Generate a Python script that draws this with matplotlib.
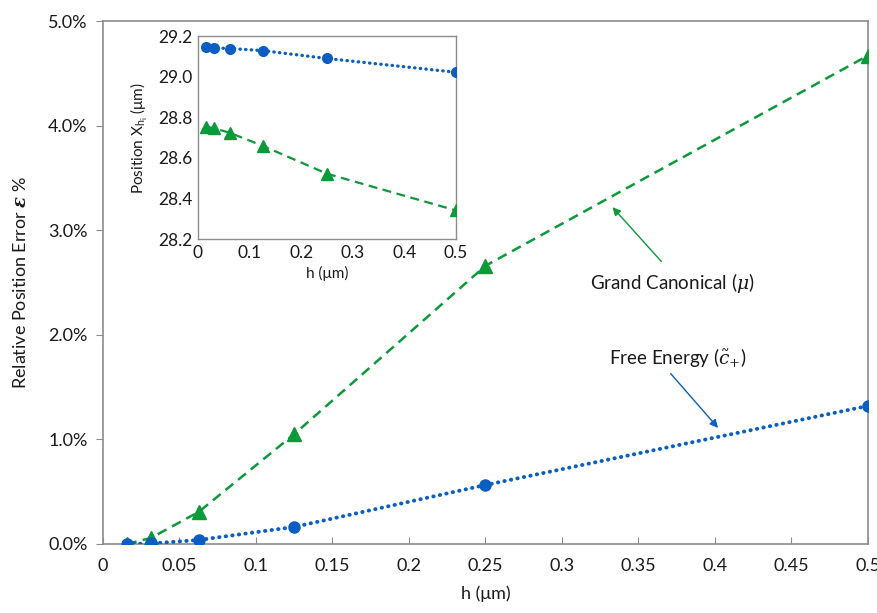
import matplotlib

matplotlib.use("Agg")

import matplotlib.pyplot as plt
from matplotlib.ticker import FuncFormatter, MultipleLocator

# grid spacings h (um)
h = [0.015625, 0.03125, 0.0625, 0.125, 0.25, 0.5]

# relative position error (%)
err_grand = [0.00, 0.057, 0.306, 1.05, 2.66, 4.67]
err_free = [0.00, 0.005, 0.038, 0.163, 0.564, 1.32]

# interface position (um)
pos_free = [29.146, 29.142, 29.139, 29.129, 29.090, 29.022]
pos_grand = [28.753, 28.746, 28.723, 28.660, 28.522, 28.341]

BLUE = "#0A5EC2"
GREEN = "#0A9A3A"
FRAME = "#8C8C8C"
INK = "#1A1A1A"

plt.rcParams["font.family"] = ["Lato", "DejaVu Sans"]
plt.rcParams["mathtext.fontset"] = "custom"
plt.rcParams["mathtext.rm"] = "DejaVu Serif"
plt.rcParams["mathtext.it"] = "DejaVu Serif:italic"
plt.rcParams["mathtext.bf"] = "DejaVu Serif:italic:bold"


def excel_num(v, _pos=None):
    s = f"{v:.2f}".rstrip("0").rstrip(".")
    return s


fig = plt.figure(figsize=(8.78, 6.13), dpi=100)
ax = fig.add_axes([0.1173, 0.1126, 0.8713, 0.8531])

ax.plot(h, err_grand, ls=(0, (4, 2.5)), lw=1.8, color=GREEN, marker="^", ms=9.5, zorder=3)
ax.plot(h, err_free, ls=(0, (0.1, 1.6)), lw=2.8, dash_capstyle="round", color=BLUE,
        marker="o", ms=8, zorder=4)

ax.set_xlim(0, 0.5)
ax.set_ylim(0, 5.0)
ax.xaxis.set_major_locator(MultipleLocator(0.05))
ax.yaxis.set_major_locator(MultipleLocator(1.0))
ax.xaxis.set_major_formatter(FuncFormatter(excel_num))
ax.yaxis.set_major_formatter(FuncFormatter(lambda v, p: f"{v:.1f}%"))
ax.tick_params(axis="x", direction="in", length=5, color=FRAME, labelsize=13, pad=10, labelcolor=INK)
ax.tick_params(axis="y", direction="out", length=5, color=FRAME, labelsize=13, pad=6, labelcolor=INK)
for sp in ax.spines.values():
    sp.set_color(FRAME)
    sp.set_linewidth(1.2)

ax.set_xlabel("h (μm)", fontsize=13, color=INK, labelpad=8)
ax.set_ylabel(r"Relative Position Error $\mathbf{\varepsilon}$ %", fontsize=13, color=INK, labelpad=14)

ax.annotate("", xy=(0.333, 3.22), xytext=(0.365, 2.70),
            arrowprops=dict(arrowstyle="-|>", color=GREEN, lw=1.0, mutation_scale=12, shrinkA=0, shrinkB=0))
ax.text(0.372, 2.50, r"Grand Canonical ($\mu$)", ha="center", va="center", fontsize=13.5, color=INK)

ax.annotate("", xy=(0.402, 1.11), xytext=(0.371, 1.63),
            arrowprops=dict(arrowstyle="-|>", color=BLUE, lw=1.0, mutation_scale=12, shrinkA=0, shrinkB=0))
ax.text(0.376, 1.78, r"Free Energy ($\tilde{c}_{+}$)", ha="center", va="center", fontsize=13.5, color=INK)

# inset: absolute interface positions
ins = fig.add_axes([0.2255, 0.610, 0.2939, 0.331])
ins.set_facecolor("white")
ins.plot(h, pos_free, ls=(0, (0.1, 1.6)), lw=2.4, dash_capstyle="round", color=BLUE,
         marker="o", ms=7, zorder=4)
ins.plot(h, pos_grand, ls=(0, (4, 2.5)), lw=1.6, color=GREEN, marker="^", ms=8.5, zorder=3)
ins.set_xlim(0, 0.5)
ins.set_ylim(28.2, 29.2)
ins.xaxis.set_major_locator(MultipleLocator(0.1))
ins.yaxis.set_major_locator(MultipleLocator(0.2))
ins.xaxis.set_major_formatter(FuncFormatter(excel_num))
ins.yaxis.set_major_formatter(FuncFormatter(lambda v, p: f"{v:.1f}"))
ins.tick_params(length=0, labelsize=12.5, pad=4, labelcolor=INK)
for sp in ins.spines.values():
    sp.set_color(FRAME)
    sp.set_linewidth(1.0)
ins.set_xlabel("h (μm)", fontsize=11, color=INK, labelpad=4)
ins.set_ylabel(r"Position X$_{\mathregular{h_i}}$ (μm)", fontsize=11, color=INK, labelpad=6)

fig.savefig("out.png", dpi=100)
